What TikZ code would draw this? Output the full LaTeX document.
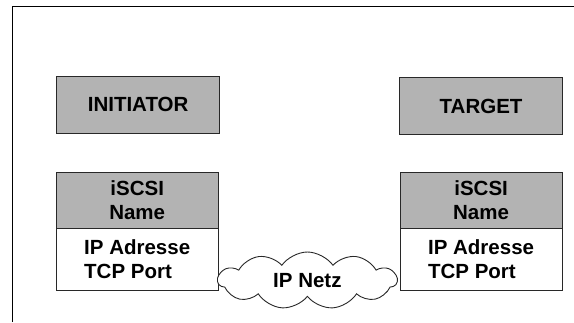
\documentclass[tikz,border=0pt]{standalone}
\usepackage{fontspec}
\setmainfont{Liberation Sans}
\usetikzlibrary{positioning,shapes.symbols}
\definecolor{boxgray}{RGB}{179,179,179}
\definecolor{linegray}{RGB}{40,40,40}
\begin{document}
\begin{tikzpicture}[
  x=1pt, y=-1pt,
  every node/.style={
    draw=linegray,
    line width=0.9pt,
    outer sep=0pt,
    inner sep=0pt,
    font=\bfseries\fontsize{20.5}{24.5}\selectfont,
    align=center
  },
  rolebox/.style={
    rectangle,
    fill=boxgray,
    minimum width=163pt,
    minimum height=57pt
  },
  namebox/.style={
    rectangle,
    fill=boxgray,
    minimum width=162pt,
    minimum height=56.4pt
  },
  addrbox/.style={
    rectangle,
    fill=white,
    align=left,
    minimum width=162pt,
    minimum height=61.6pt
  }
]
  \useasboundingbox (0,0) rectangle (574,322);
  \draw[line width=1pt] (12.5,322) -- (12.5,6.5) -- (574,6.5);

  \node[rolebox] (init)  at (138.1,104.8) {INITIATOR};
  \node[rolebox] (targ)  at (481.1,106.3) {TARGET};

  \node[namebox] (nameL) at (137.2,200.2) {iSCSI\\Name};
  \node[addrbox, below=0pt of nameL] (addrL) {IP Adresse\\TCP Port};
  \node[namebox] (nameR) at (481.1,200.2) {iSCSI\\Name};
  \node[addrbox, below=0pt of nameR] (addrR) {IP Adresse\\TCP Port};

  \node[cloud, cloud puffs=11, cloud puff arc=110, aspect=3.1,
        fill=white, minimum width=179pt, minimum height=57pt]
        (netz) at (307.4,280.5) {IP Netz};
\end{tikzpicture}
\end{document}
